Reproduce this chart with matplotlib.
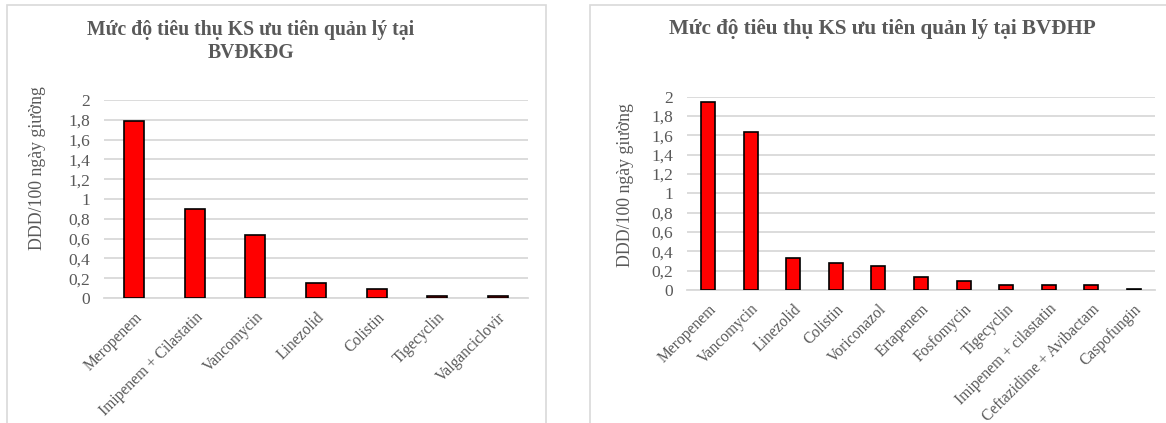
import numpy as np
import matplotlib.pyplot as plt
from matplotlib.patches import Rectangle
from matplotlib.ticker import FuncFormatter

# BVĐKĐG
thuoc_dg = ['Meropenem', 'Imipenem + Cilastatin', 'Vancomycin', 'Linezolid',
            'Colistin', 'Tigecyclin', 'Valganciclovir']
ddd_dg = [1.79, 0.90, 0.64, 0.15, 0.09, 0.02, 0.02]

# BVĐHP
thuoc_hp = ['Meropenem', 'Vancomycin', 'Linezolid', 'Colistin', 'Voriconazol',
            'Ertapenem', 'Fosfomycin', 'Tigecyclin', 'Imipenem + cilastatin',
            'Ceftazidime + Avibactam', 'Caspofungin']
ddd_hp = [1.94, 1.63, 0.33, 0.28, 0.25, 0.13, 0.09, 0.05, 0.05, 0.05, 0.01]

y_ticks = [0, 0.2, 0.4, 0.6, 0.8, 1, 1.2, 1.4, 1.6, 1.8, 2]

plt.rcParams['font.family'] = ['Liberation Serif', 'DejaVu Serif']
xam = '#595959'
luoi = '#D9D9D9'

W, H = 1166, 423
fig = plt.figure(figsize=(W / 100, H / 100), dpi=100)

# khung cua 2 bieu do
for x0, x1 in [(7, 546), (590, 1175)]:
    fig.patches.append(Rectangle((x0 / W, -0.05), (x1 - x0) / W, 1 - 5 / H + 0.05,
                                 transform=fig.transFigure, fill=False,
                                 edgecolor=luoi, linewidth=1.2))


def ve_cot(ax, nhan, gia_tri, tieu_de, tx, ty, lab_xy, co_td):
    x = np.arange(len(nhan))
    ax.bar(x, gia_tri, width=0.33, color='#FF0000', edgecolor='black', linewidth=1.2, zorder=3)
    ax.set_xlim(-0.5, len(nhan) - 0.5)
    ax.set_ylim(0, 2)
    ax.set_yticks(y_ticks)
    ax.yaxis.set_major_formatter(FuncFormatter(lambda v, p: f'{v:g}'.replace('.', ',')))
    ax.grid(axis='y', color=luoi, linewidth=1.3, zorder=0)
    for s in ['top', 'right', 'left']:
        ax.spines[s].set_visible(False)
    ax.spines['bottom'].set_color(luoi)
    ax.spines['bottom'].set_linewidth(1.3)
    ax.tick_params(axis='both', length=0, colors=xam, labelsize=12.5)
    ax.tick_params(axis='y', pad=10)
    ax.set_xticks(x)
    ax.set_xticklabels(nhan, rotation=45, ha='right', va='top', rotation_mode='anchor',
                       fontsize=11.2, color=xam)
    ax.tick_params(axis='x', pad=8)
    ax.set_ylabel('DDD/100 ngày giường', fontsize=12.8, color=xam)
    ax.yaxis.set_label_coords(*lab_xy)
    fig.text(tx / W, 1 - ty / H, tieu_de, ha='center', va='center', fontsize=co_td,
             fontweight='bold', color=xam, linespacing=1.2)


ax1 = fig.add_axes([104 / W, 1 - 298 / H, 424 / W, 198 / H])
ve_cot(ax1, thuoc_dg, ddd_dg, 'Mức độ tiêu thụ KS ưu tiên quản lý tại\nBVĐKĐG',
       251, 41, (-0.137, 0.657), 14.2)

ax2 = fig.add_axes([687 / W, 1 - 290 / H, 468 / W, 193.3 / H])
ve_cot(ax2, thuoc_hp, ddd_hp, 'Mức độ tiêu thụ KS ưu tiên quản lý tại BVĐHP',
       882, 29, (-0.113, 0.543), 15.2)

plt.savefig('out.png', dpi=100)
